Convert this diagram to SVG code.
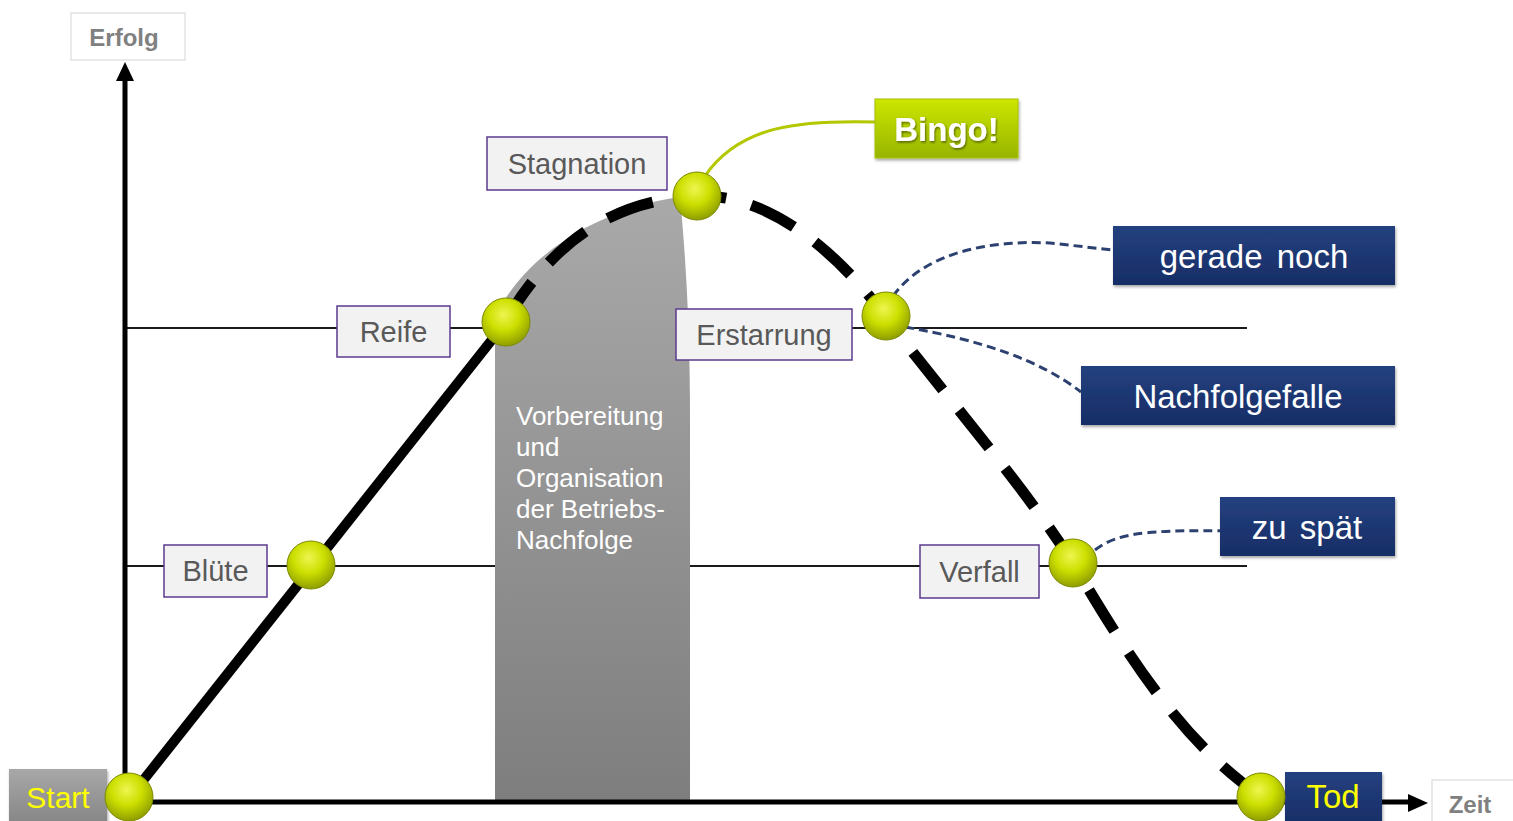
<svg xmlns="http://www.w3.org/2000/svg" width="1513" height="821" viewBox="0 0 1513 821">
<style>
text{font-family:"Liberation Sans",Arial,sans-serif}
.lbl rect{fill:#f2f2f2;stroke:#5b3a8c;stroke-width:1.5}
.lbl text{fill:#595959;font-size:29px;text-anchor:middle}
.navy rect{fill:url(#gNavy);filter:url(#sh)}
.navy text{fill:#fff;font-size:33px;text-anchor:middle}
.hl{stroke:#1a1a1a;stroke-width:2;fill:none}
.ax{stroke:#000;stroke-width:5;fill:none}
.nd{stroke:#2c4170;stroke-width:3;fill:none;stroke-dasharray:9 5}
.ball{fill:url(#gBall);stroke:#7d8a00;stroke-width:1}
</style>
<defs>
<radialGradient id="gBall" cx="45%" cy="35%" r="65%">
<stop offset="0" stop-color="#eef550"/>
<stop offset="0.5" stop-color="#ccdf00"/>
<stop offset="1" stop-color="#8f9e00"/>
</radialGradient>
<linearGradient id="gNavy" x1="0" y1="0" x2="0" y2="1">
<stop offset="0" stop-color="#24417f"/>
<stop offset="1" stop-color="#172d66"/>
</linearGradient>
<linearGradient id="gGreen" x1="0" y1="0" x2="0" y2="1">
<stop offset="0" stop-color="#cde600"/>
<stop offset="1" stop-color="#97b500"/>
</linearGradient>
<linearGradient id="gGray" x1="0" y1="0" x2="0" y2="1">
<stop offset="0" stop-color="#a9a9a9"/>
<stop offset="1" stop-color="#7e7e7e"/>
</linearGradient>
<linearGradient id="gStart" x1="0" y1="0" x2="0" y2="1">
<stop offset="0" stop-color="#a8a8a8"/>
<stop offset="1" stop-color="#858585"/>
</linearGradient>
<filter id="sh" x="-10%" y="-10%" width="125%" height="130%">
<feDropShadow dx="1" dy="2" stdDeviation="1.5" flood-color="#000" flood-opacity="0.35"/>
</filter>
<filter id="tsh" x="-10%" y="-10%" width="130%" height="140%">
<feDropShadow dx="1" dy="1.5" stdDeviation="1" flood-color="#000" flood-opacity="0.5"/>
</filter>
</defs>

<g id="grid">
<line class="hl" x1="125" y1="328" x2="1247" y2="328"/>
<line class="hl" x1="125" y1="566" x2="1247" y2="566"/>
</g>

<g id="phase">
<path d="M495,800 L495,318 C512,280 545,250 585,228 C620,210 650,201 680,197 C686,260 690,330 690,420 L690,800 Z" fill="url(#gGray)"/>
<text fill="#fff" font-size="26">
<tspan x="516" y="425">Vorbereitung</tspan>
<tspan x="516" y="456">und</tspan>
<tspan x="516" y="487">Organisation</tspan>
<tspan x="516" y="518">der Betriebs-</tspan>
<tspan x="516" y="549">Nachfolge</tspan>
</text>
</g>

<g id="axes">
<line class="ax" x1="125" y1="800" x2="125" y2="78"/>
<polygon points="125,62 116,81 134,81"/>
<line class="ax" x1="125" y1="802" x2="1410" y2="802" stroke-width="4"/>
<polygon points="1428,803 1408,794 1408,812"/>
<g id="erfolg"><rect x="71" y="13" width="114" height="47" fill="#fff" stroke="#e2e2e2" stroke-width="1.5"/>
<text x="124" y="46" fill="#808080" font-size="24" font-weight="bold" text-anchor="middle">Erfolg</text></g>
<g id="zeit"><rect x="1432" y="780" width="90" height="50" fill="#fff" stroke="#e2e2e2" stroke-width="1.5"/>
<text x="1470" y="813" fill="#808080" font-size="24" font-weight="bold" text-anchor="middle">Zeit</text></g>
</g>

<g id="connectors">
<line x1="130" y1="797" x2="506" y2="322" stroke="#000" stroke-width="10"/>
<path d="M505,322 C550,245 610,200 697,196 C770,193 840,255 885,316 C940,390 1020,480 1073,563 C1130,660 1185,745 1262,797" fill="none" stroke="#000" stroke-width="11" stroke-dasharray="48 26"/>
<path d="M705,176 C740,125 800,120 876,122" fill="none" stroke="#b3c800" stroke-width="3"/>
<path class="nd" d="M893,296 C925,252 990,240 1050,243 L1113,250"/>
<path class="nd" d="M905,327 C980,340 1040,360 1081,392"/>
<path class="nd" d="M1095,550 C1120,530 1160,530 1250,531"/>
</g>

<g id="bluete" class="lbl"><rect x="164" y="545" width="103" height="52"/><text x="215.5" y="581">Blüte</text></g>
<g id="reife" class="lbl"><rect x="337" y="306" width="113" height="51"/><text x="393.5" y="342">Reife</text></g>
<g id="stagnation" class="lbl"><rect x="487" y="137" width="180" height="53"/><text x="577" y="174">Stagnation</text></g>
<g id="erstarrung" class="lbl"><rect x="676" y="309" width="176" height="51"/><text x="764" y="345">Erstarrung</text></g>
<g id="verfall" class="lbl"><rect x="920" y="545" width="119" height="53"/><text x="979.5" y="582">Verfall</text></g>

<g id="bingo"><rect x="875" y="99" width="143" height="59" fill="url(#gGreen)" stroke="#a8c000" stroke-width="1" filter="url(#sh)"/>
<text x="946.5" y="141" fill="#fff" font-size="33" font-weight="bold" text-anchor="middle" filter="url(#tsh)">Bingo!</text></g>

<g id="gerade" class="navy"><rect x="1113" y="226" width="282" height="59"/><text x="1254" y="268" word-spacing="5">gerade noch</text></g>
<g id="nachfolgefalle" class="navy"><rect x="1081" y="366" width="314" height="59"/><text x="1238" y="408">Nachfolgefalle</text></g>
<g id="zuspaet" class="navy"><rect x="1220" y="497" width="175" height="59"/><text x="1307" y="539" word-spacing="4">zu spät</text></g>
<g id="tod" class="navy"><rect x="1285" y="772" width="97" height="55"/><text x="1333" y="808" style="fill:#ffff00" font-size="30">Tod</text></g>
<g id="start"><rect x="9" y="769" width="98" height="56" fill="url(#gStart)" filter="url(#sh)"/>
<text x="58" y="808" fill="#ffff00" font-size="30" text-anchor="middle">Start</text></g>

<g id="balls">
<circle class="ball" cx="129" cy="797" r="24"/>
<circle class="ball" cx="311" cy="565" r="24"/>
<circle class="ball" cx="506" cy="322" r="24"/>
<circle class="ball" cx="697" cy="196" r="24"/>
<circle class="ball" cx="886" cy="316" r="24"/>
<circle class="ball" cx="1073" cy="563" r="24"/>
<circle class="ball" cx="1261" cy="797" r="24"/>
</g>
</svg>
